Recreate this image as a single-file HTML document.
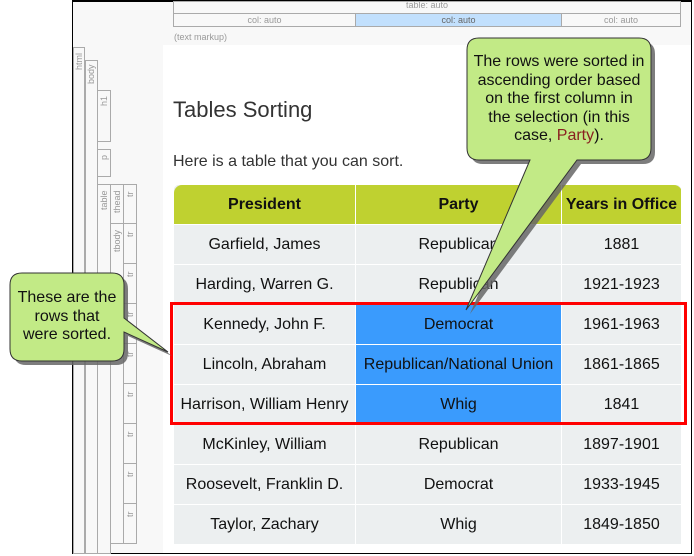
<!DOCTYPE html>
<html><head><meta charset="utf-8"><style>
body{margin:0;width:694px;height:556px;position:relative;overflow:hidden;background:#fff;font-family:"Liberation Sans",Arial,sans-serif;}
.a{position:absolute;}
.g{position:absolute;border:1px solid #aaa;box-sizing:border-box;}
.vt{position:absolute;transform:rotate(-90deg);transform-origin:left top;font-size:9px;color:#999;white-space:nowrap;}
table{border-collapse:collapse;position:absolute;left:173px;top:184px;width:509px;font-size:16px;color:#111;}
td,th{height:39px;padding:0;text-align:center;border:1px solid #fff;background:#eceff0;}
th{background:#bfd130;font-weight:bold;font-size:16px;}
td.b{background:#3a9bfd;}
</style></head><body>
<div class="a" style="left:72px;top:0;width:620px;height:554px;border:1px solid #000;border-top:2px solid #000;box-sizing:border-box;background:#f8f8f8"></div>
<div class="a" style="left:163px;top:45px;width:528px;height:508px;background:#fff"></div>
<div class="g" style="left:173px;top:1px;width:508px;height:13px;font-size:9px;color:#999;text-align:center;line-height:20px;overflow:hidden"><span style="position:relative;top:-7px">table: auto</span></div>
<div class="g" style="left:173px;top:13px;width:183px;height:14px;font-size:9px;color:#999;text-align:center;line-height:12px">col: auto</div>
<div class="g" style="left:355px;top:13px;width:207px;height:14px;font-size:9px;color:#666;text-align:center;line-height:12px;background:#c2e0fd">col: auto</div>
<div class="g" style="left:561px;top:13px;width:120px;height:14px;font-size:9px;color:#999;text-align:center;line-height:12px">col: auto</div>
<div class="a" style="left:174px;top:32px;font-size:9px;color:#999">(text markup)</div>
<div class="g" style="left:73px;top:47px;width:12px;height:507px"></div>
<div class="g" style="left:85px;top:60px;width:13px;height:494px"></div>
<div class="g" style="left:97px;top:90px;width:14px;height:52px"></div>
<div class="g" style="left:97px;top:149px;width:14px;height:28px"></div>
<div class="g" style="left:97px;top:184px;width:14px;height:370px"></div>
<div class="g" style="left:110px;top:184px;width:14px;height:40px"></div>
<div class="g" style="left:110px;top:223px;width:14px;height:321px"></div>
<div class="g" style="left:123px;top:184px;width:14px;height:40px"></div>
<div class="g" style="left:123px;top:223px;width:14px;height:41px"></div>
<div class="g" style="left:123px;top:263px;width:14px;height:41px"></div>
<div class="g" style="left:123px;top:303px;width:14px;height:41px"></div>
<div class="g" style="left:123px;top:343px;width:14px;height:41px"></div>
<div class="g" style="left:123px;top:383px;width:14px;height:41px"></div>
<div class="g" style="left:123px;top:423px;width:14px;height:41px"></div>
<div class="g" style="left:123px;top:463px;width:14px;height:41px"></div>
<div class="g" style="left:123px;top:503px;width:14px;height:41px"></div>
<div class="vt" style="left:74px;top:70px">html</div>
<div class="vt" style="left:86px;top:84px">body</div>
<div class="vt" style="left:99px;top:106px">h1</div>
<div class="vt" style="left:99px;top:160px">p</div>
<div class="vt" style="left:99px;top:210px">table</div>
<div class="vt" style="left:112px;top:213px">thead</div>
<div class="vt" style="left:112px;top:252px">tbody</div>
<div class="vt" style="left:125px;top:197px">tr</div><div class="vt" style="left:125px;top:237px">tr</div>
<div class="vt" style="left:125px;top:277px">tr</div><div class="vt" style="left:125px;top:317px">tr</div>
<div class="vt" style="left:125px;top:357px">tr</div><div class="vt" style="left:125px;top:397px">tr</div>
<div class="vt" style="left:125px;top:437px">tr</div><div class="vt" style="left:125px;top:477px">tr</div>
<div class="vt" style="left:125px;top:517px">tr</div>
<div class="a" style="left:173px;top:97px;font-size:22px;color:#333">Tables Sorting</div>
<div class="a" style="left:173px;top:153px;font-size:16px;color:#333">Here is a table that you can sort.</div>
<div class="a" style="left:173px;top:184px;width:509px;height:360px;border-radius:8px;overflow:hidden;background:#eceff0"></div>
<table>
<tr><th style="width:181px;border-radius:8px 0 0 0">President</th><th style="width:205px">Party</th><th style="border-radius:0 8px 0 0">Years in Office</th></tr>
<tr><td>Garfield, James</td><td>Republican</td><td>1881</td></tr>
<tr><td>Harding, Warren G.</td><td>Republican</td><td>1921-1923</td></tr>
<tr><td>Kennedy, John F.</td><td class="b">Democrat</td><td>1961-1963</td></tr>
<tr><td>Lincoln, Abraham</td><td class="b">Republican/National Union</td><td>1861-1865</td></tr>
<tr><td>Harrison, William Henry</td><td class="b">Whig</td><td>1841</td></tr>
<tr><td>McKinley, William</td><td>Republican</td><td>1897-1901</td></tr>
<tr><td>Roosevelt, Franklin D.</td><td>Democrat</td><td>1933-1945</td></tr>
<tr><td>Taylor, Zachary</td><td>Whig</td><td>1849-1850</td></tr>
</table>
<div class="a" style="left:170px;top:302px;width:517px;height:123px;border:3px solid #f00;box-sizing:border-box"></div>
<svg class="a" style="left:0;top:0" width="694" height="556">
<g fill="#666" opacity="0.85" transform="translate(4,4)">
<path d="M22,273 H112 Q124,273 124,285 V318 L168,352 L124,332 V349 Q124,361 112,361 H22 Q10,361 10,349 V285 Q10,273 22,273Z"/>
<path d="M479,38 H639 Q651,38 651,50 V148 Q651,160 639,160 H577 L466,310 L530,160 H479 Q467,160 467,148 V50 Q467,38 479,38Z"/>
</g>
<g fill="#c2ea86" stroke="#333" stroke-width="1">
<path d="M22,273 H112 Q124,273 124,285 V318 L168,352 L124,332 V349 Q124,361 112,361 H22 Q10,361 10,349 V285 Q10,273 22,273Z"/>
<path d="M479,38 H639 Q651,38 651,50 V148 Q651,160 639,160 H577 L466,310 L530,160 H479 Q467,160 467,148 V50 Q467,38 479,38Z"/>
</g>
</svg>
<div class="a" style="left:10px;top:289px;width:114px;text-align:center;font-size:16px;line-height:18.5px;color:#111;white-space:nowrap">These are the<br>rows that<br>were sorted.</div>
<div class="a" style="left:467px;top:53px;width:184px;text-align:center;font-size:16px;line-height:18.5px;color:#111;white-space:nowrap">The rows were sorted in<br>ascending order based<br>on the first column in<br>the selection (in this<br>case, <span style="color:#8a2020">Party</span>).</div>
</body></html>
